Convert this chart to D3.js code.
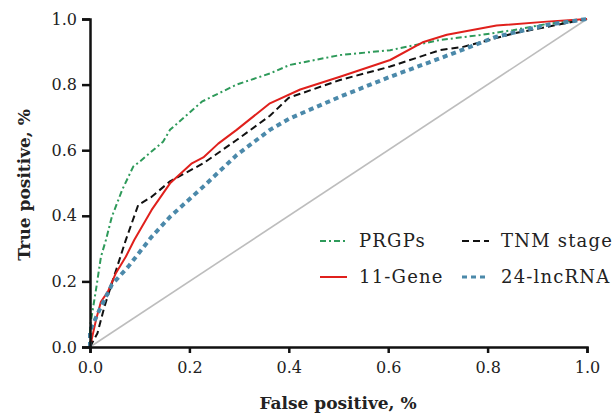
<!DOCTYPE html>
<html>
<head>
<meta charset="utf-8">
<script src="https://cdn.jsdelivr.net/npm/d3@7/dist/d3.min.js"></script>
<style>
  body { margin: 0; background: #fff; }
  svg { display: block; }
</style>
</head>
<body>
<div id="roc"></div>
<script>
var width = 615;
var height = 416;

// ROC curves (false positive rate / true positive rate)
var prgpsFpr = [0, 0, 0.012, 0.022, 0.032, 0.044, 0.065, 0.087, 0.10, 0.147, 0.161, 0.225, 0.295, 0.362, 0.402, 0.503, 0.604, 0.704, 0.785, 0.851, 0.92, 1];
var prgpsTpr = [0, 0.062, 0.174, 0.275, 0.326, 0.397, 0.48, 0.55, 0.565, 0.626, 0.662, 0.748, 0.80, 0.834, 0.86, 0.89, 0.905, 0.936, 0.951, 0.966, 0.985, 1];

var tnmFpr = [0, 0.015, 0.029, 0.046, 0.059, 0.072, 0.097, 0.124, 0.161, 0.228, 0.295, 0.362, 0.40, 0.503, 0.604, 0.704, 0.751, 0.852, 1];
var tnmTpr = [0, 0.042, 0.123, 0.204, 0.265, 0.326, 0.433, 0.458, 0.505, 0.56, 0.631, 0.705, 0.76, 0.814, 0.855, 0.905, 0.915, 0.956, 1];

var geneFpr = [0, 0.012, 0.022, 0.036, 0.052, 0.072, 0.089, 0.124, 0.161, 0.205, 0.228, 0.258, 0.295, 0.362, 0.423, 0.503, 0.604, 0.671, 0.718, 0.818, 0.919, 1];
var geneTpr = [0, 0.082, 0.138, 0.169, 0.225, 0.275, 0.326, 0.418, 0.499, 0.56, 0.578, 0.62, 0.662, 0.743, 0.785, 0.824, 0.875, 0.93, 0.952, 0.98, 0.992, 1];

var lncFpr = [0, 0, 0.019, 0.044, 0.077, 0.124, 0.161, 0.228, 0.295, 0.362, 0.402, 0.503, 0.604, 0.704, 0.818, 0.919, 1];
var lncTpr = [0, 0.05, 0.113, 0.19, 0.245, 0.336, 0.397, 0.489, 0.585, 0.662, 0.697, 0.763, 0.824, 0.88, 0.946, 0.982, 1];

var tickValues = [0, 0.2, 0.4, 0.6, 0.8, 1.0];

var series = [
  {name: "PRGPs", fpr: prgpsFpr, tpr: prgpsTpr, color: "#2e9a5a", width: 2, dash: "6,3,2,3"},
  {name: "TNM stage", fpr: tnmFpr, tpr: tnmTpr, color: "#111111", width: 2, dash: "7,4"},
  {name: "11-Gene", fpr: geneFpr, tpr: geneTpr, color: "#e0201c", width: 2, dash: null},
  {name: "24-lncRNA", fpr: lncFpr, tpr: lncTpr, color: "#4b89aa", width: 4, dash: "5,4"}
];

var font = "'DejaVu Serif', serif";

var x = d3.scaleLinear().domain([0, 1]).range([90, 587]);
var y = d3.scaleLinear().domain([0, 1]).range([347, 19]);

var svg = d3.select("#roc")
    .append("svg")
    .attr("width", width)
    .attr("height", height)
    .attr("font-family", font);

// reference diagonal
svg.append("line")
    .attr("x1", x(0)).attr("y1", y(0))
    .attr("x2", x(1)).attr("y2", y(1))
    .attr("stroke", "#bdbdbd")
    .attr("stroke-width", 1.6);

var line = d3.line()
    .x(function(d) { return x(d[0]); })
    .y(function(d) { return y(d[1]); });

series.forEach(function(s) {
  var pts = s.fpr.map(function(f, i) { return [f, s.tpr[i]]; });
  svg.append("path")
      .datum(pts)
      .attr("d", line)
      .attr("fill", "none")
      .attr("stroke", s.color)
      .attr("stroke-width", s.width)
      .attr("stroke-dasharray", s.dash)
      .attr("stroke-linejoin", "round");
});

// axes
var xAxis = svg.append("g")
    .attr("transform", "translate(0," + y(0) + ")")
    .call(d3.axisBottom(x).tickValues(tickValues).tickFormat(d3.format(".1f")).tickSizeOuter(0).tickSize(6).tickPadding(9));

var yAxis = svg.append("g")
    .attr("transform", "translate(" + x(0) + ",0)")
    .call(d3.axisLeft(y).tickValues(tickValues).tickFormat(d3.format(".1f")).tickSizeOuter(0).tickSize(8).tickPadding(5));

[xAxis, yAxis].forEach(function(g) {
  g.select(".domain").attr("stroke", "#111").attr("stroke-width", 2.5);
  g.selectAll(".tick line").attr("stroke", "#111").attr("stroke-width", 2.5);
  g.selectAll(".tick text")
      .attr("font-family", font)
      .attr("font-size", 16)
      .attr("fill", "#222");
});

svg.append("text")
    .attr("x", 338)
    .attr("y", 409)
    .attr("text-anchor", "middle")
    .attr("font-size", 17)
    .attr("font-weight", "bold")
    .attr("fill", "#222")
    .text("False positive, %");

svg.append("text")
    .attr("transform", "translate(30,185) rotate(-90)")
    .attr("text-anchor", "middle")
    .attr("font-size", 17)
    .attr("font-weight", "bold")
    .attr("fill", "#222")
    .text("True positive, %");

// legend, two columns
var legendPos = [[320, 241], [462, 241], [320, 277], [462, 277]];
series.forEach(function(s, i) {
  var p = legendPos[i];
  svg.append("line")
      .attr("x1", p[0]).attr("x2", p[0] + 27)
      .attr("y1", p[1]).attr("y2", p[1])
      .attr("stroke", s.color)
      .attr("stroke-width", s.width === 4 ? 3 : 2)
      .attr("stroke-dasharray", s.dash);
  svg.append("text")
      .attr("x", p[0] + 39)
      .attr("y", p[1] + 6)
      .attr("font-size", 18)
      .attr("letter-spacing", 1.2)
      .attr("fill", "#222")
      .text(s.name);
});
</script>
</body>
</html>
